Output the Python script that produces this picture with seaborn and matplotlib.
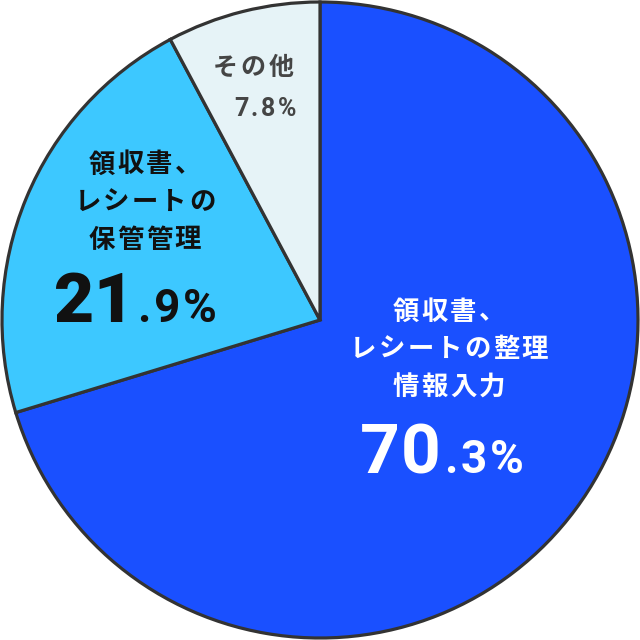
import matplotlib
matplotlib.use("Agg")
import matplotlib.pyplot as plt
from matplotlib.transforms import IdentityTransform
import seaborn as sns

# chart data
categories = ["領収書、\nレシートの整理\n情報入力", "領収書、\nレシートの\n保管管理", "その他"]
shares = [70.3, 21.9, 7.8]
slice_colors = ["#1a50ff", "#3dc8ff", "#e6f3f7"]

sns.set_theme(style="white")
plt.rcParams['font.family'] = ['Noto Sans CJK JP', 'DejaVu Sans']

W = H = 640
fig = plt.figure(figsize=(6.4, 6.4), dpi=100)
ax = fig.add_axes([0, 0, 1, 1])
R = 318.0

ax.pie(shares, colors=slice_colors, startangle=90, counterclock=False,
       radius=1.0, wedgeprops=dict(edgecolor="#333333", linewidth=2.3))
ax.set_xlim(-320 / R, 320 / R)
ax.set_ylim(-320 / R, 320 / R)
ax.set_aspect("equal")
ax.axis("off")

renderer = fig.canvas.get_renderer()


def tracked(s, x, y, track=0.0, ha="center", va="center", **kw):
    """draw a string char by char with extra letter spacing (pixel coords, y from top)"""
    items = [fig.text(0, 0, ch, transform=IdentityTransform(), ha="left", va=va, **kw)
             for ch in s]
    widths = [t.get_window_extent(renderer).width for t in items]
    total = sum(widths) + track * (len(s) - 1)
    start = {"left": x, "center": x - total / 2, "right": x - total}[ha]
    for t, w in zip(items, widths):
        t.set_position((start, H - y))
        start += w + track
    return total


def split_pct(v):
    whole, frac = f"{v:.1f}".split(".")
    return whole, "." + frac + "%"


def label_block(text, cx, y0, pitch, **kw):
    for i, line in enumerate(text.split("\n")):
        tracked(line, cx, y0 + i * pitch, **kw)


# big slice
label_block(categories[0], 449, 312, 37.5, track=2.2, color="white",
            fontsize=19, weight="semibold")
w, f = split_pct(shares[0])
tracked(w, 441, 473, track=1.0, ha="right", va="baseline", color="white",
        fontsize=50, weight="bold", family="Roboto")
tracked(f, 444, 473, track=3.0, ha="left", va="baseline", color="white",
        fontsize=33, weight="semibold", family="Roboto")

# second slice
label_block(categories[1], 145, 165, 37.5, track=2.2, color="#111111",
            fontsize=19, weight="semibold")
w, f = split_pct(shares[1])
tracked(w, 134, 322, track=0.0, ha="right", va="baseline", color="#111111",
        fontsize=50, weight="black", family="Roboto")
tracked(f, 137, 322, track=3.0, ha="left", va="baseline", color="#111111",
        fontsize=33, weight="semibold", family="Roboto")

# small slice
tracked(categories[2], 253, 68, track=3.0, color="#454545",
        fontsize=18, weight="semibold")
tracked(f"{shares[2]:.1f}%", 265, 116, track=2.5, va="baseline", color="#454545",
        fontsize=18, weight="semibold", family="Roboto")

fig.savefig("out.png", dpi=100)
